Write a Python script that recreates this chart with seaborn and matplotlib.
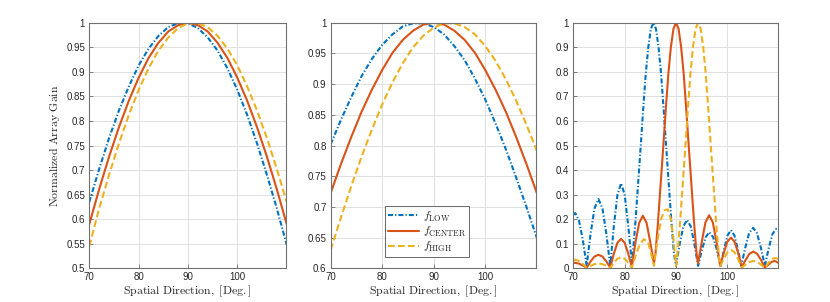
import matplotlib
matplotlib.use("Agg")
import matplotlib.pyplot as plt
import pandas as pd
import seaborn as sns

# ---------------- data ----------------
angles = [70, 72, 74, 76, 78, 80, 82, 84, 86, 88, 90,
          92, 94, 96, 98, 100, 102, 104, 106, 108, 110]

# panel 1
low_1 = [0.635, 0.702, 0.765, 0.821, 0.870, 0.913, 0.947, 0.973, 0.991, 0.999, 0.999,
         0.989, 0.970, 0.943, 0.907, 0.863, 0.812, 0.754, 0.690, 0.622, 0.548]
center_1 = [0.590, 0.661, 0.727, 0.787, 0.841, 0.888, 0.928, 0.959, 0.982, 0.995, 1.000,
            0.995, 0.982, 0.959, 0.928, 0.888, 0.841, 0.787, 0.727, 0.661, 0.590]
high_1 = [0.545, 0.622, 0.690, 0.754, 0.812, 0.863, 0.907, 0.943, 0.970, 0.989, 0.999,
          0.999, 0.991, 0.973, 0.947, 0.913, 0.870, 0.821, 0.765, 0.702, 0.635]

# panel 2
low_2 = [0.802, 0.842, 0.879, 0.913, 0.941, 0.964, 0.981, 0.994, 0.999, 0.999, 0.993,
         0.981, 0.962, 0.939, 0.909, 0.875, 0.836, 0.794, 0.748, 0.700, 0.650]
center_2 = [0.723, 0.770, 0.814, 0.855, 0.891, 0.923, 0.951, 0.972, 0.987, 0.997, 1.000,
            0.997, 0.987, 0.972, 0.951, 0.923, 0.891, 0.855, 0.814, 0.770, 0.723]
high_2 = [0.630, 0.683, 0.734, 0.782, 0.826, 0.867, 0.903, 0.934, 0.960, 0.979, 0.992,
          0.999, 0.999, 0.993, 0.981, 0.962, 0.938, 0.908, 0.873, 0.834, 0.792]

# panel 3
low_3_x = [70.0, 70.4, 71.1, 71.9, 72.6, 73.37, 74.13, 74.9, 75.67, 76.43, 77.2,
           77.9, 78.6, 79.3, 80.0, 80.7, 81.4, 81.6, 82.1, 82.6, 83.1, 83.6, 84.1,
           84.6, 85.1, 85.6, 86.1, 86.6, 87.1, 87.6, 88.1, 88.6, 89.1, 89.6, 90.0,
           90.72, 91.43, 92.15, 92.87, 93.58, 94.3, 95.03, 95.77, 96.5, 97.23, 97.97,
           98.7, 99.37, 100.03, 100.7, 101.37, 102.03, 102.7, 103.47, 104.23, 105.0,
           105.77, 106.53, 107.3, 108.03, 108.77, 109.5, 110.0]
low_3_y = [0.218, 0.225, 0.195, 0.11, 0.01, 0.141, 0.244, 0.282, 0.244, 0.141, 0.01,
           0.173, 0.30, 0.346, 0.30, 0.173, 0.02, 0.06, 0.19, 0.34, 0.49, 0.645, 0.79,
           0.90, 0.975, 1.0, 0.975, 0.90, 0.79, 0.645, 0.49, 0.34, 0.19, 0.06, 0.01,
           0.099, 0.171, 0.197, 0.171, 0.099, 0.01, 0.074, 0.127, 0.147, 0.127, 0.074,
           0.01, 0.078, 0.134, 0.155, 0.134, 0.078, 0.01, 0.083, 0.143, 0.165,
           0.143, 0.083, 0.01, 0.08, 0.139, 0.16, 0.152]

center_3_x = [70.0, 70.4, 71.1, 71.9, 72.6, 73.37, 74.13, 74.9, 75.67, 76.43, 77.2,
              77.9, 78.6, 79.3, 80.0, 80.7, 81.4, 82.12, 82.83, 83.55, 84.27, 84.98,
              85.7, 86.0, 86.5, 87.0, 87.5, 88.0, 88.5, 89.0, 89.5, 90.0, 90.5, 91.0,
              91.5, 92.0, 92.5, 93.0, 93.5, 94.0, 94.3, 95.02, 95.73, 96.45, 97.17,
              97.88, 98.6, 99.3, 100.0, 100.7, 101.4, 102.1, 102.8, 103.55, 104.3,
              105.05, 105.8, 106.55, 107.3, 108.0, 108.6, 109.2, 110.0]
center_3_y = [0.021, 0.022, 0.019, 0.011, 0.002, 0.028, 0.048, 0.055, 0.048, 0.028, 0.003,
              0.06, 0.104, 0.12, 0.104, 0.06, 0.005, 0.107, 0.185, 0.214, 0.185, 0.107,
              0.02, 0.06, 0.19, 0.34, 0.49, 0.645, 0.79, 0.90, 0.975, 1.0, 0.975, 0.90,
              0.79, 0.645, 0.49, 0.34, 0.19, 0.06, 0.02, 0.108, 0.187, 0.216, 0.187,
              0.108, 0.01, 0.063, 0.108, 0.125, 0.108, 0.063, 0.005, 0.034, 0.059,
              0.068, 0.059, 0.034, 0.003, 0.015, 0.026, 0.03, 0.022]

high_3_x = [70.0, 70.4, 71.1, 71.9, 72.6, 73.37, 74.13, 74.9, 75.67, 76.43, 77.2,
            77.9, 78.6, 79.3, 80.0, 80.7, 81.4, 82.1, 82.9, 83.7, 84.5, 85.1, 85.7,
            86.4, 87.1, 87.8, 88.4, 89.0, 89.5, 90.0, 90.3, 90.8, 91.3, 91.8, 92.3,
            92.8, 93.3, 93.8, 94.3, 94.8, 95.3, 95.8, 96.3, 96.8, 97.3, 97.8, 98.3,
            98.6, 99.3, 100.0, 100.7, 101.4, 102.1, 102.8, 103.55, 104.3, 105.05,
            105.8, 106.55, 107.3, 108.0, 108.7, 109.3, 110.0]
high_3_y = [0.033, 0.035, 0.03, 0.017, 0.002, 0.01, 0.017, 0.02, 0.017, 0.01, 0.001,
            0.022, 0.039, 0.045, 0.039, 0.022, 0.002, 0.05, 0.095, 0.118, 0.11, 0.065,
            0.01, 0.115, 0.20, 0.237, 0.24, 0.20, 0.12, 0.01, 0.06, 0.19, 0.34, 0.49,
            0.645, 0.79, 0.90, 0.975, 1.0, 0.975, 0.90, 0.79, 0.645, 0.49, 0.34, 0.19,
            0.06, 0.01, 0.037, 0.065, 0.075, 0.065, 0.037, 0.003, 0.015, 0.026, 0.03,
            0.026, 0.015, 0.002, 0.022, 0.038, 0.042, 0.038]

series_labels = [r"$f_{\rm LOW}$", r"$f_{\rm CENTER}$", r"$f_{\rm HIGH}$"]
x_ticks = [70, 80, 90, 100]
y_ticks_1 = [0.5, 0.55, 0.6, 0.65, 0.7, 0.75, 0.8, 0.85, 0.9, 0.95, 1]
y_ticks_2 = [0.6, 0.65, 0.7, 0.75, 0.8, 0.85, 0.9, 0.95, 1]
y_ticks_3 = [0, 0.1, 0.2, 0.3, 0.4, 0.5, 0.6, 0.7, 0.8, 0.9, 1]
x_label = r"$\mathrm{Spatial\ Direction,\ [Deg.]}$"
y_label = r"$\mathrm{Normalized\ Array\ Gain}$"

# ---------------- style ----------------
sns.set_style("ticks")
plt.rcParams["font.family"] = ["Liberation Sans", "DejaVu Sans"]
plt.rcParams["mathtext.fontset"] = "cm"

colors = ["#0072BD", "#D95319", "#EDB120"]
dash_patterns = [[2.4, 1.0, 0.6, 1.0], None, [3.2, 1.6]]
LW = 1.5

W, H = 830.0, 302.0
bottom = (H - 268.3) / H
height = 245.6 / H
panel_px = [(89.3, 196.4), (330.7, 205.0), (573.3, 204.4)]

fig = plt.figure(figsize=(8.3, 3.02), dpi=100)
fig.patch.set_facecolor("white")

panels = [
    ([angles, angles, angles], [low_1, center_1, high_1], (0.5, 1.0), y_ticks_1),
    ([angles, angles, angles], [low_2, center_2, high_2], (0.6, 1.0), y_ticks_2),
    ([low_3_x, center_3_x, high_3_x], [low_3_y, center_3_y, high_3_y], (0.0, 1.0), y_ticks_3),
]

axes = []
for i, (xs, ys, ylim, yt) in enumerate(panels):
    left, width = panel_px[i]
    ax = fig.add_axes([left / W, bottom, width / W, height])
    axes.append(ax)
    for j in range(3):
        df = pd.DataFrame({"angle": xs[j], "gain": ys[j]})
        sns.lineplot(data=df, x="angle", y="gain", ax=ax, color=colors[j],
                     lw=LW, label=series_labels[j], legend=False)
        line = ax.lines[-1]
        if dash_patterns[j] is not None:
            line.set_dashes(dash_patterns[j])
    ax.set_xlim(70, 109.8)
    ax.set_ylim(*ylim)
    ax.set_xticks(x_ticks)
    ax.set_yticks(yt)
    ax.set_yticklabels([("%g" % v) for v in yt])
    ax.grid(True, color="#e0e0e0", lw=0.7)
    ax.set_axisbelow(True)
    for s in ax.spines.values():
        s.set_color("#707070")
        s.set_linewidth(0.8)
        s.set_visible(True)
    ax.tick_params(direction="in", length=3, width=0.6, colors="#707070",
                   labelcolor="#262626", labelsize=7, pad=3)
    ax.set_xlabel(x_label, fontsize=8.5, labelpad=1, color="#262626")
    ax.set_ylabel("")

axes[0].set_ylabel(y_label, fontsize=8.5, labelpad=3, color="#262626")

leg = axes[1].legend(loc="lower center", bbox_to_anchor=(0.47, 0.02),
                     fontsize=8.5, handlelength=2.6, handletextpad=0.3,
                     borderpad=0.3, labelspacing=0.1, frameon=True, fancybox=False)
leg.get_frame().set_edgecolor("#262626")
leg.get_frame().set_linewidth(0.6)

fig.savefig("out.png", dpi=100, facecolor="white")
